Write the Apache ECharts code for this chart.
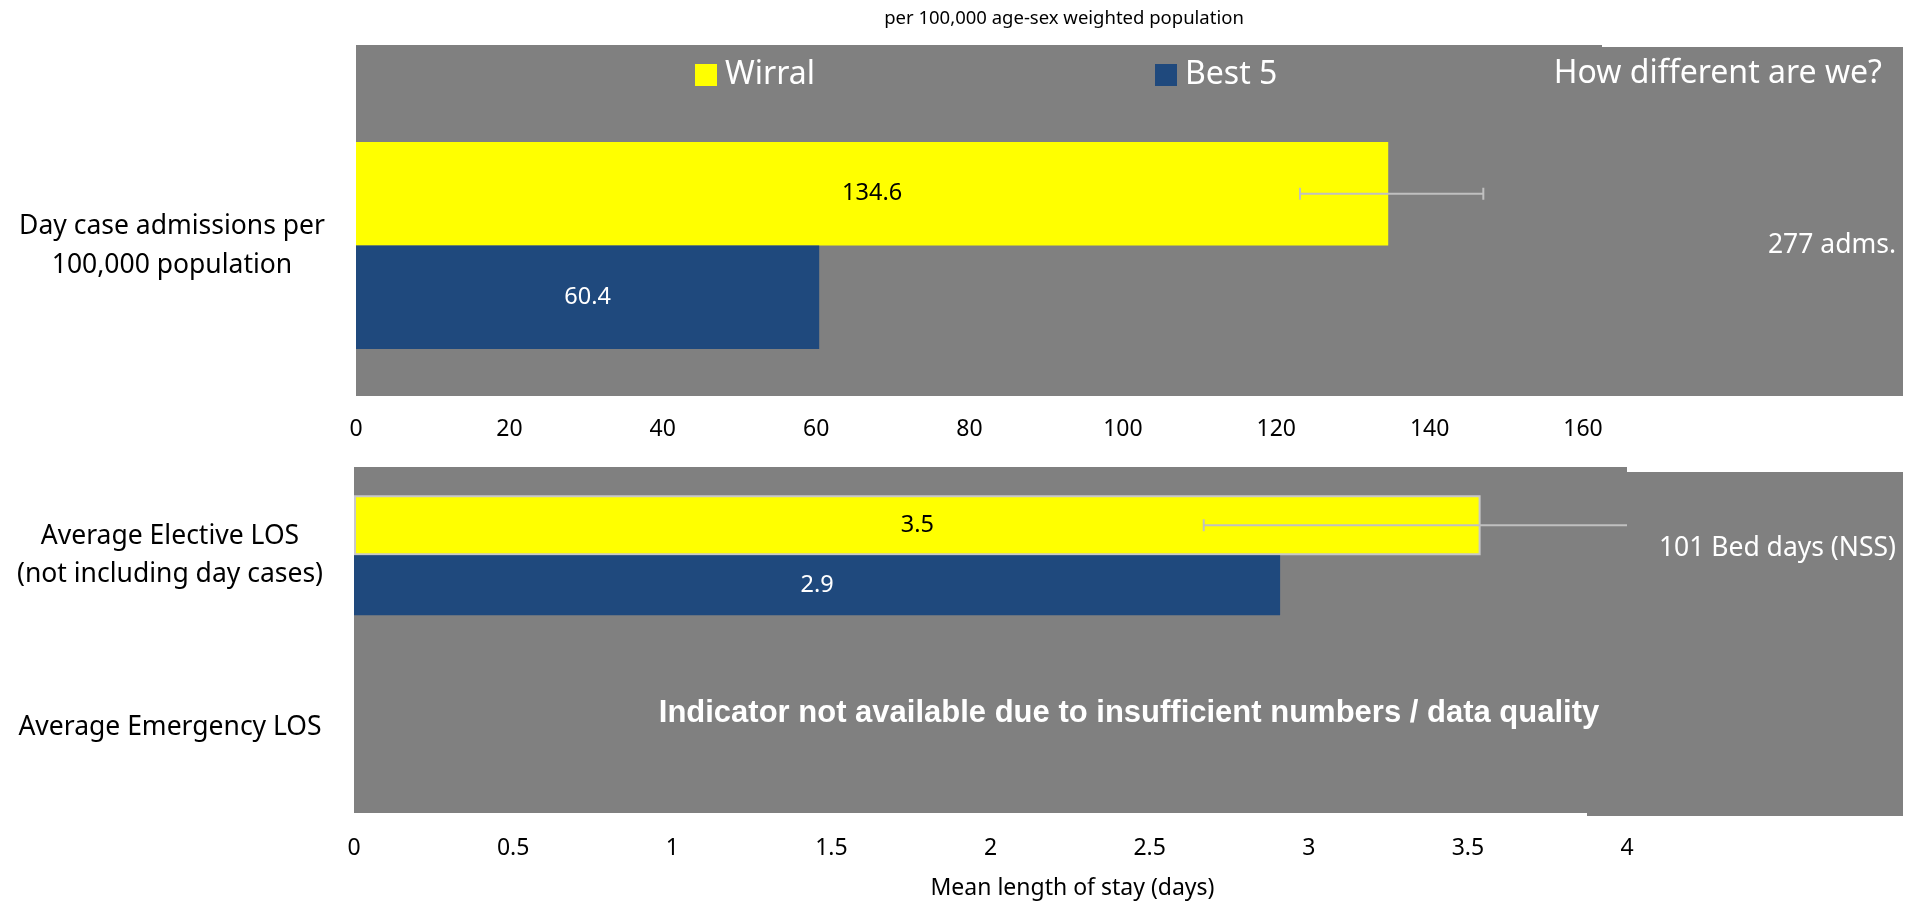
<!DOCTYPE html>
<html><head><meta charset="utf-8">
<script src="https://cdn.jsdelivr.net/npm/echarts@6/dist/echarts.min.js"></script>
<style>html,body{margin:0;padding:0;background:#fff}#c{width:1918px;height:901px}</style>
</head><body><div id="c"></div>
<script>
// ---- data ----
const seriesNames = ['Wirral', 'Best 5'];
const topCategories = ['Day case admissions per\n100,000 population'];
const topWirral = [134.6];
const topBest5 = [60.4];
const topWirralLow = [123.1];
const topWirralHigh = [147.0];
const topAxisMax = 160, topAxisStep = 20;

const bottomCategories = ['Average Emergency LOS', 'Average Elective LOS\n(not including day cases)'];
const bottomWirral = [null, 3.54];
const bottomBest5 = [null, 2.91];
const bottomWirralLow = [null, 2.67];
const bottomWirralHigh = [null, 4.4];
const bottomAxisMax = 4, bottomAxisStep = 0.5;

const titleText = 'per 100,000 age-sex weighted population';
const sideHeader = 'How different are we?';
const sideNotes = ['277 adms.', '101 Bed days (NSS)'];
const naText = 'Indicator not available due to insufficient numbers / data quality';
const bottomAxisName = 'Mean length of stay (days)';

// ---- styling ----
const FONT = '"Noto Sans", sans-serif';
const YELLOW = '#ffff00', BLUE = '#1f497d', GRAY = '#808080', ERR = '#c0c0c0';
const BOTTOM_BAR = 60;

function errData(low, high) {
  return low.map((l, i) => [i, l, high[i]]).filter(d => d[1] != null);
}
function errorRenderer(offsetFn) {
  return function (params, api) {
    const cat = api.value(0), lo = api.value(1), hi = api.value(2);
    const cs = params.coordSys;
    const band = api.size([0, 1])[1];
    const p1 = api.coord([lo, cat]);
    const p2 = api.coord([hi, cat]);
    const y = p1[1] + offsetFn(band);
    const xmax = cs.x + cs.width;
    const x2 = Math.min(p2[0], xmax);
    const capH = 6;
    const kids = [
      { type: 'line', shape: { x1: p1[0], y1: y, x2: x2, y2: y }, style: { stroke: ERR, lineWidth: 2 } },
      { type: 'line', shape: { x1: p1[0], y1: y - capH, x2: p1[0], y2: y + capH }, style: { stroke: ERR, lineWidth: 2 } }
    ];
    if (p2[0] <= xmax) kids.push({ type: 'line', shape: { x1: p2[0], y1: y - capH, x2: p2[0], y2: y + capH }, style: { stroke: ERR, lineWidth: 2 } });
    return { type: 'group', children: kids };
  };
}
function lbl(color) {
  return { show: true, position: 'inside', color: color, fontSize: 23.5, fontFamily: FONT,
    formatter: p => (p.value == null ? '' : Number(p.value).toFixed(1)) };
}
function txt(text, x, y, size, align, color, weight, family) {
  return { type: 'text', silent: true, z: 10,
    style: { text: text, x: x, y: y, fill: color, align: align, verticalAlign: 'middle',
      textAlign: align, textVerticalAlign: 'middle',
      font: (weight || 'normal') + ' ' + size + 'px ' + (family || FONT) } };
}
function rect(x, y, w, h) {
  return { type: 'rect', silent: true, z: -10, shape: { x: x, y: y, width: w, height: h }, style: { fill: GRAY } };
}

const chart = echarts.init(document.getElementById('c'));
chart.setOption({
  animation: false,
  textStyle: { fontFamily: FONT },
  title: { text: titleText, left: 1064, top: 9, padding: 0, textAlign: 'center',
    textStyle: { fontSize: 18.5, fontWeight: 'normal', color: '#000', fontFamily: FONT } },
  legend: [
    { data: [seriesNames[0]], left: 695, top: 59, padding: 0, icon: 'rect', itemWidth: 22, itemHeight: 22,
      textStyle: { color: '#fff', fontSize: 32, fontFamily: FONT, padding: [0, 0, 0, 3] } },
    { data: [seriesNames[1]], left: 1155, top: 59, padding: 0, icon: 'rect', itemWidth: 22, itemHeight: 22,
      textStyle: { color: '#fff', fontSize: 32, fontFamily: FONT, padding: [0, 0, 0, 3] } }
  ],
  grid: [
    { left: 356, top: 142, width: 1227, height: 207, containLabel: false },
    { left: 354, top: 469, width: 1273, height: 346, containLabel: false }
  ],
  xAxis: [
    { type: 'value', gridIndex: 0, min: 0, max: topAxisMax, interval: topAxisStep,
      axisLine: { show: false }, axisTick: { show: false }, splitLine: { show: false },
      axisLabel: { margin: 69, fontSize: 23, color: '#000', fontFamily: FONT } },
    { type: 'value', gridIndex: 1, min: 0, max: bottomAxisMax, interval: bottomAxisStep,
      axisLine: { show: false }, axisTick: { show: false }, splitLine: { show: false },
      axisLabel: { margin: 23, fontSize: 23, color: '#000', fontFamily: FONT },
      name: bottomAxisName, nameLocation: 'middle', nameGap: 63,
      nameTextStyle: { fontSize: 23, color: '#000', fontFamily: FONT, padding: [0, 0, 0, 164] } }
  ],
  yAxis: [
    { type: 'category', gridIndex: 0, data: topCategories,
      axisLine: { show: false }, axisTick: { show: false },
      axisLabel: { margin: 184, align: 'center', fontSize: 26.5, lineHeight: 39, color: '#000', fontFamily: FONT } },
    { type: 'category', gridIndex: 1, data: bottomCategories,
      axisLine: { show: false }, axisTick: { show: false },
      axisLabel: { margin: 184, align: 'center', fontSize: 26.5, lineHeight: 38, color: '#000', fontFamily: FONT } }
  ],
  series: [
    { name: seriesNames[0], type: 'bar', xAxisIndex: 0, yAxisIndex: 0, data: topWirral,
      barGap: 0, barCategoryGap: 0, itemStyle: { color: YELLOW }, label: lbl('#000'), z: 2 },
    { name: seriesNames[1], type: 'bar', xAxisIndex: 0, yAxisIndex: 0, data: topBest5,
      barGap: 0, barCategoryGap: 0, itemStyle: { color: BLUE }, label: lbl('#fff'), z: 2 },
    { name: seriesNames[0], type: 'bar', xAxisIndex: 1, yAxisIndex: 1, data: bottomWirral,
      barGap: 0, barWidth: BOTTOM_BAR, itemStyle: { color: YELLOW, borderColor: '#c8c8c8', borderWidth: 2 },
      label: lbl('#000'), z: 2 },
    { name: seriesNames[1], type: 'bar', xAxisIndex: 1, yAxisIndex: 1, data: bottomBest5,
      barGap: 0, barWidth: BOTTOM_BAR, itemStyle: { color: BLUE }, label: lbl('#fff'), z: 2 },
    { type: 'custom', xAxisIndex: 0, yAxisIndex: 0, z: 5, silent: true,
      data: errData(topWirralLow, topWirralHigh), encode: { x: [1, 2], y: 0 },
      renderItem: errorRenderer(band => -band / 4) },
    { type: 'custom', xAxisIndex: 1, yAxisIndex: 1, z: 5, silent: true,
      data: errData(bottomWirralLow, bottomWirralHigh), encode: { x: [1, 2], y: 0 },
      renderItem: errorRenderer(band => -BOTTOM_BAR / 2) }
  ],
  graphic: [
    rect(356, 45, 1246, 351),
    rect(1587, 47, 316, 349),
    rect(354, 467, 1273, 346),
    rect(1587, 472, 316, 344),
    txt(sideHeader, 1882, 74, 32, 'right', '#fff'),
    txt(sideNotes[0], 1896, 245, 26.5, 'right', '#fff'),
    txt(sideNotes[1], 1896, 548, 26.5, 'right', '#fff'),
    txt(naText, 1129, 713, 31, 'center', '#fff', 'bold', '"Liberation Sans", Arial, sans-serif')
  ]
});
</script></body></html>
